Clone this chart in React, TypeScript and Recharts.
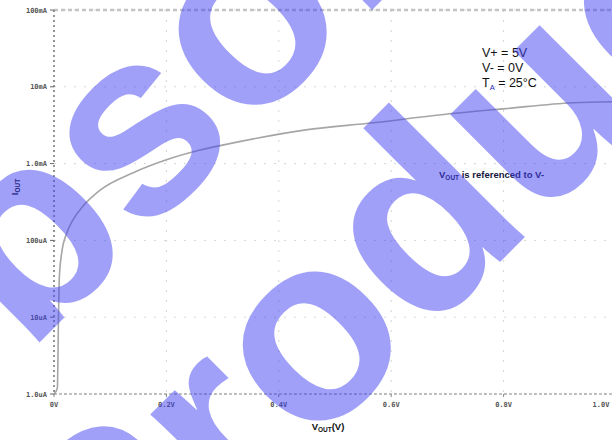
import { CartesianGrid, Line, LineChart, ReferenceLine, XAxis, YAxis } from 'recharts'

// output voltage (V) and output current (A)
const voutV = [0, 0.006, 0.008, 0.0095, 0.0137, 0.023, 0.034, 0.05, 0.082, 0.141, 0.2, 0.26, 0.319, 0.448, 0.568, 0.685, 0.804, 0.923, 1.0]
const ioutA = [1.0e-6, 1.2e-6, 1.0e-5, 3.3e-5, 6.9e-5, 1.26e-4, 1.86e-4, 2.7e-4, 4.5e-4, 7.6e-4, 1.12e-3, 1.5e-3, 1.86e-3, 2.75e-3, 3.4e-3, 4.3e-3, 5.2e-3, 6.2e-3, 6.4e-3]

const xTicks = [0, 0.2, 0.4, 0.6, 0.8, 1.0]
const xTickLabels = ['0V', '0.2V', '0.4V', '0.6V', '0.8V', '1.0V']
const yTicks = [1e-6, 1e-5, 1e-4, 1e-3, 1e-2, 1e-1]
const yTickLabels = ['1.0uA', '10uA', '100uA', '1.0mA', '10mA', '100mA']

const conditions = ['V+ = 5V', 'V- = 0V']

const points = voutV.map((v, i) => ({ vout: v, iout: ioutA[i] }))

const tickFont = {
  fontFamily: '"DejaVu Sans Mono", monospace',
  fontSize: 7,
  fontWeight: 700,
  fill: '#555',
}

const labelFont = {
  fontFamily: '"Liberation Sans", Arial, sans-serif',
}

const findLabel = (ticks: number[], labels: string[], value: number) => {
  const idx = ticks.findIndex((t) => Math.abs(t - value) < value * 1e-6 + 1e-12)
  return idx >= 0 ? labels[idx] : ''
}

const XTick = (props: any) => {
  const { x, y, payload } = props
  return (
    <text x={Math.min(x, 601)} y={y + 8} textAnchor="middle" {...tickFont}>
      {findLabel(xTicks, xTickLabels, payload.value)}
    </text>
  )
}

const YTick = (props: any) => {
  const { x, y, payload } = props
  return (
    <text x={x} y={y + 2.5} textAnchor="end" {...tickFont}>
      {findLabel(yTicks, yTickLabels, payload.value)}
    </text>
  )
}

export default function App() {
  return (
    <div
      style={{
        position: 'absolute',
        left: 0,
        top: 0,
        width: 612,
        height: 440,
        overflow: 'hidden',
        background: '#fff',
      }}
    >
      <LineChart
        width={620}
        height={440}
        data={points}
        margin={{ top: 10, right: 4, bottom: 0, left: 0 }}
      >
        <CartesianGrid stroke="#d4d4d4" strokeDasharray="2 8" />
        <XAxis
          dataKey="vout"
          type="number"
          domain={[0, 1]}
          ticks={xTicks}
          height={46}
          tickSize={3}
          tickMargin={2}
          tick={<XTick />}
          axisLine={{ stroke: '#888', strokeDasharray: '3 2' }}
          tickLine={{ stroke: '#888' }}
        />
        <YAxis
          dataKey="iout"
          scale="log"
          domain={[1e-6, 0.1]}
          allowDataOverflow
          ticks={yTicks}
          width={54}
          tickSize={4}
          tickMargin={3}
          tick={<YTick />}
          axisLine={{ stroke: '#777', strokeWidth: 1.5, strokeDasharray: '2 3' }}
          tickLine={{ stroke: '#666' }}
        />
        <ReferenceLine y={0.1} stroke="#c4c4c4" strokeWidth={2.5} strokeDasharray="4 3" />
        <Line
          type="monotone"
          dataKey="iout"
          stroke="#a6a6a6"
          strokeWidth={1.6}
          dot={false}
          isAnimationActive={false}
        />
      </LineChart>

      <svg
        width={612}
        height={440}
        style={{ position: 'absolute', left: 0, top: 0, pointerEvents: 'none' }}
      >
        <g {...labelFont} fill="#111" fontSize={12.5}>
          {conditions.map((c, i) => (
            <text key={c} x={482} y={57 + i * 15}>
              {c}
            </text>
          ))}
          <text x={482} y={87}>
            T
            <tspan fontSize={7.5} dy={3} fill="#2a2ab0">A</tspan>
            <tspan dy={-3}> = 25°C</tspan>
          </text>
        </g>
        <text {...labelFont} x={439} y={178} fontSize={9.5} fontWeight={700} fill="#14143c">
          V<tspan fontSize={6.5} dy={2}>OUT</tspan>
          <tspan dy={-2}> is referenced to V-</tspan>
        </text>
        <text {...labelFont} x={328} y={430} textAnchor="middle" fontSize={9.5} fontWeight={700} fill="#111">
          V<tspan fontSize={6.5} dy={2}>OUT</tspan>
          <tspan dy={-2}>(V)</tspan>
        </text>
        <text
          {...labelFont}
          x={18}
          y={187}
          textAnchor="middle"
          fontSize={9.5}
          fontWeight={700}
          fill="#111"
          transform="rotate(-90 18 187)"
        >
          I<tspan fontSize={6.5} dy={2}>OUT</tspan>
        </text>

        <g
          fontFamily='"Liberation Sans", Arial, sans-serif'
          fontWeight={700}
          fontSize={264}
          fill="#4343f3"
          opacity={0.5}
        >
          <text x={-118} y={500} transform="rotate(-45 -118 500)">
            Obsolete
          </text>
          <text x={112} y={650} transform="rotate(-45 112 650)">
            Product
          </text>
        </g>
      </svg>
    </div>
  )
}
